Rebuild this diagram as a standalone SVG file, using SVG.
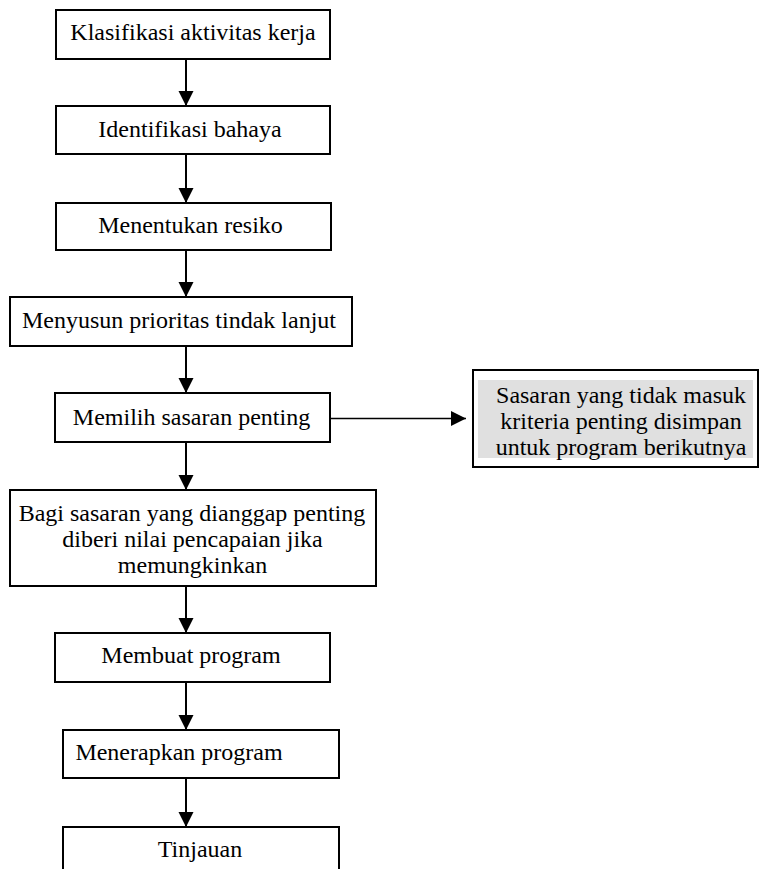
<svg xmlns="http://www.w3.org/2000/svg" width="760" height="869" viewBox="0 0 760 869">
<style>
.box{fill:#ffffff;stroke:#000000;stroke-width:2}
.t{font-family:"Liberation Serif","Times New Roman",serif;font-size:24px;fill:#000000;text-anchor:middle}
.c{stroke:#000000;stroke-width:2;fill:none}
</style>
<defs>
<marker id="ah" markerUnits="userSpaceOnUse" markerWidth="16" markerHeight="16" refX="15" refY="7.5" orient="auto">
<path d="M0,0 L15,7.5 L0,15 Z" fill="#000000"/>
</marker>
</defs>
<rect width="760" height="869" fill="#ffffff"/>
<g id="connectors">
<line class="c" x1="186" y1="59" x2="186" y2="106" marker-end="url(#ah)"/>
<line class="c" x1="186" y1="154" x2="186" y2="203" marker-end="url(#ah)"/>
<line class="c" x1="186" y1="250" x2="186" y2="297" marker-end="url(#ah)"/>
<line class="c" x1="186" y1="346" x2="186" y2="393" marker-end="url(#ah)"/>
<line class="c" x1="186" y1="442" x2="186" y2="490" marker-end="url(#ah)"/>
<line class="c" x1="331" y1="418.5" x2="466" y2="418.5" marker-end="url(#ah)" style="stroke-width:1.6"/>
<line class="c" x1="186" y1="586" x2="186" y2="633" marker-end="url(#ah)"/>
<line class="c" x1="186" y1="682" x2="186" y2="730" marker-end="url(#ah)"/>
<line class="c" x1="186" y1="778" x2="186" y2="827" marker-end="url(#ah)"/>
</g>
<g id="n1">
<rect class="box" x="56" y="10" width="274" height="49"/>
<text class="t" x="193" y="40">Klasifikasi aktivitas kerja</text>
</g>
<g id="n2">
<rect class="box" x="56" y="106" width="274" height="48"/>
<text class="t" x="190" y="137">Identifikasi bahaya</text>
</g>
<g id="n3">
<rect class="box" x="56" y="203" width="275" height="47"/>
<text class="t" x="190.5" y="233">Menentukan resiko</text>
</g>
<g id="n4">
<rect class="box" x="10" y="297" width="342" height="49"/>
<text class="t" x="179" y="328">Menyusun prioritas tindak lanjut</text>
</g>
<g id="n5">
<rect class="box" x="55" y="393" width="275" height="49"/>
<text class="t" x="191.5" y="425">Memilih sasaran penting</text>
</g>
<g id="n6">
<rect class="box" x="10" y="490" width="366" height="96"/>
<text class="t" x="192" y="521">Bagi sasaran yang dianggap penting</text>
<text class="t" x="192.5" y="547">diberi nilai pencapaian jika</text>
<text class="t" x="192.5" y="573">memungkinkan</text>
</g>
<g id="n7">
<rect class="box" x="473" y="370" width="285" height="97"/>
<rect x="478" y="380" width="275" height="78" fill="#e0e0e0"/>
<text class="t" x="621" y="403">Sasaran yang tidak masuk</text>
<text class="t" x="621" y="429">kriteria penting disimpan</text>
<text class="t" x="621" y="455">untuk program berikutnya</text>
</g>
<g id="n8">
<rect class="box" x="55" y="633" width="275" height="49"/>
<text class="t" x="191" y="663">Membuat program</text>
</g>
<g id="n9">
<rect class="box" x="63" y="730" width="276" height="48"/>
<text class="t" x="179" y="760">Menerapkan program</text>
</g>
<g id="n10">
<rect class="box" x="63" y="827" width="276" height="60"/>
<text class="t" x="200" y="857">Tinjauan</text>
</g>
</svg>
